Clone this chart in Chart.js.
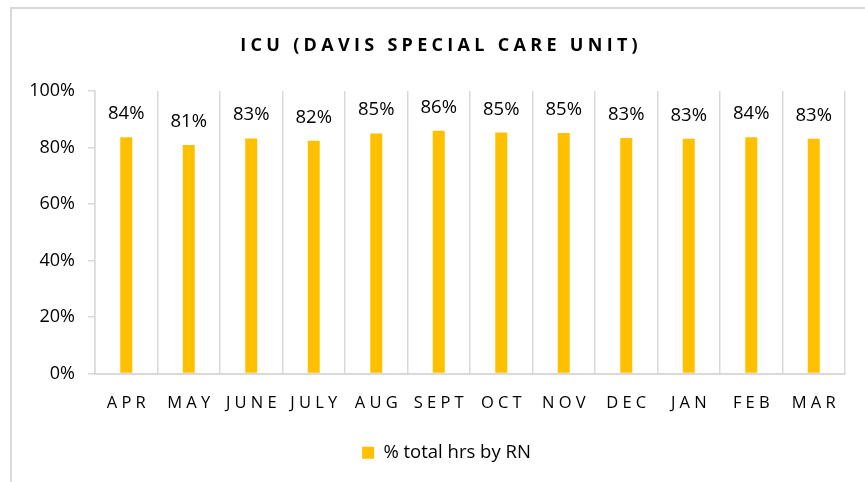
<!DOCTYPE html>
<html>
<head>
<meta charset="utf-8">
<script src="https://cdn.jsdelivr.net/npm/chart.js@4"></script>
<style>
  html, body { margin: 0; padding: 0; background: #ffffff; }
  #wrap { position: relative; width: 865px; height: 482px; }
  #frame { position: absolute; left: 10px; top: 7px; width: 900px; height: 500px;
           border-left: 2px solid #d9d9d9; border-top: 2px solid #d9d9d9; box-sizing: border-box; }
  canvas { position: absolute; left: 0; top: 0; }
</style>
</head>
<body>
<div id="wrap">
  <div id="frame"></div>
  <canvas id="c" width="865" height="482"></canvas>
</div>
<script>
const titleText = "ICU (DAVIS SPECIAL CARE UNIT)";
const categories = ["APR", "MAY", "JUNE", "JULY", "AUG", "SEPT", "OCT", "NOV", "DEC", "JAN", "FEB", "MAR"];
const seriesName = "% total hrs by RN";
const rnShare = [83.6, 80.9, 83.2, 82.4, 85.0, 85.9, 85.3, 85.1, 83.4, 83.1, 83.6, 83.1];
const yTicks = [0, 20, 40, 60, 80, 100];

const FONT = "'Open Sans', 'Liberation Sans', sans-serif";
const barColor = "#ffc000";
const gridColor = "#d9d9d9";

const decorPlugin = {
  id: "decor",
  afterLayout(chart) {
    const lg = chart.legend;
    if (lg) { lg.left += 24; lg.right += 24; }
  },
  afterDraw(chart) {
    const ctx = chart.ctx;
    const x = chart.scales.x, y = chart.scales.y;
    ctx.save();
    // title
    ctx.font = "bold 18px " + FONT;
    ctx.fillStyle = "#000000";
    ctx.textBaseline = "alphabetic";
    ctx.textAlign = "left";
    ctx.letterSpacing = "4.3px";
    let w = ctx.measureText(titleText).width - 4.3;
    ctx.fillText(titleText, 439 - w / 2, 51);
    // category labels
    ctx.font = "16.5px " + FONT;
    ctx.letterSpacing = "4.2px";
    categories.forEach((c, i) => {
      const cw = ctx.measureText(c).width - 4.2;
      ctx.fillText(c, x.getPixelForValue(i) - cw / 2, y.bottom + 34);
    });
    // value labels
    ctx.letterSpacing = "0px";
    ctx.font = "18.5px " + FONT;
    ctx.textAlign = "center";
    const meta = chart.getDatasetMeta(0);
    meta.data.forEach((bar, i) => {
      ctx.fillText(Math.round(rnShare[i]) + "%", bar.x, bar.y - 18);
    });
    ctx.restore();
  }
};

new Chart(document.getElementById("c"), {
  type: "bar",
  data: {
    labels: categories,
    datasets: [{
      label: seriesName,
      data: rnShare,
      backgroundColor: barColor,
      borderWidth: 0,
      barPercentage: 0.2,
      categoryPercentage: 0.96
    }]
  },
  options: {
    responsive: false,
    animation: false,
    devicePixelRatio: 1,
    layout: { padding: { top: 91, right: 20, bottom: 10, left: 0 } },
    plugins: {
      title: { display: false },
      tooltip: { enabled: false },
      legend: {
        display: true,
        position: "bottom",
        labels: {
          boxWidth: 12, boxHeight: 12, padding: 6,
          color: "#000000",
          font: { family: FONT, size: 18.5 }
        }
      }
    },
    scales: {
      x: {
        offset: true,
        afterFit(scale) { scale.height = 64; },
        grid: { display: true, offset: true, color: gridColor, lineWidth: 1.5, drawTicks: false },
        border: { display: true, color: gridColor, width: 2 },
        ticks: { display: false }
      },
      y: {
        min: 0, max: 100,
        afterBuildTicks(scale) { scale.ticks = yTicks.map(v => ({ value: v })); },
        afterFit(scale) { scale.width = 95; },
        grid: { display: true, drawOnChartArea: false, drawTicks: true, tickLength: 7, color: gridColor, lineWidth: 1.5 },
        border: { display: true, color: gridColor, width: 1.5 },
        ticks: {
          color: "#000000",
          padding: 13,
          font: { family: FONT, size: 18 },
          callback: v => v + "%"
        }
      }
    }
  },
  plugins: [decorPlugin]
});
</script>
</body>
</html>
